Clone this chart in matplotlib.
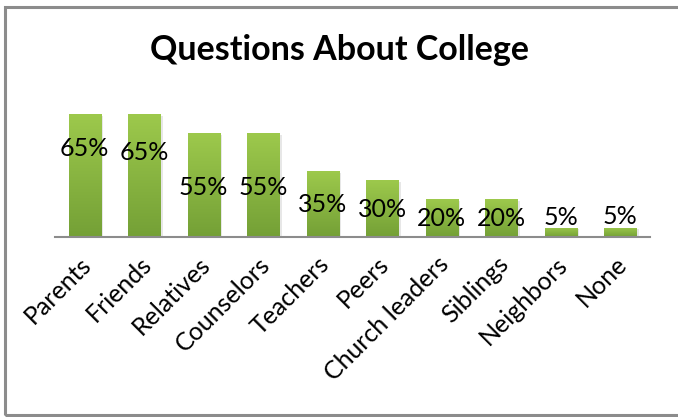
import numpy as np
import matplotlib.pyplot as plt
import matplotlib.transforms as mtransforms
from matplotlib.colors import LinearSegmentedColormap
from matplotlib.patches import Rectangle

categories = ['Parents', 'Friends', 'Relatives', 'Counselors', 'Teachers',
              'Peers', 'Church leaders', 'Siblings', 'Neighbors', 'None']
values = [65, 65, 55, 55, 35, 30, 20, 20, 5, 5]
value_labels = ['65%', '65%', '55%', '55%', '35%', '30%', '20%', '20%', '5%', '5%']
# heights where the value labels sit
label_at = [47, 45, 26.5, 26.5, 17, 14.5, 10, 10, 10.5, 11]

plt.rcParams['font.family'] = ['Lato', 'DejaVu Sans']

W, H = 678, 417
fig = plt.figure(figsize=(W / 100, H / 100), dpi=100)

# grey frame round the chart (right edge runs off the picture)
frame = Rectangle((4.5 / W, (H - 414.5) / H), 1.2, (414.5 - 6.5) / H,
                  transform=fig.transFigure, fill=False,
                  edgecolor='#8c8c8c', linewidth=2.2)
fig.patches.append(frame)

ax_left, ax_right = 55 / W, 650 / W
ax_bottom = (H - 237) / H
ax_height = 132 / H
ax = fig.add_axes([ax_left, ax_bottom, ax_right - ax_left, ax_height])

x = np.arange(len(categories))
width = 0.54
green = LinearSegmentedColormap.from_list('grn', ['#74a036', '#9dc94c'])
grad = np.linspace(0, 1, 256).reshape(-1, 1)

bars = ax.bar(x, values, width, color='#8ab542', zorder=2)
for b in bars:
    # soft shadow
    ax.add_patch(Rectangle((b.get_x() + 0.04, -0.8), b.get_width(), b.get_height(),
                           facecolor='#d8d8d8', edgecolor='none', zorder=1, alpha=0.6))
    im = ax.imshow(grad, cmap=green, origin='lower', aspect='auto',
                   extent=[b.get_x(), b.get_x() + b.get_width(), 0, b.get_height()],
                   zorder=3)
    im.set_clip_path(b)

for xi, ly, lab in zip(x, label_at, value_labels):
    ax.text(xi, ly, lab, ha='center', va='center', fontsize=18, color='black', zorder=5)

ax.set_xlim(-0.5, len(categories) - 0.5)
ax.set_ylim(0, 70)
for s in ['top', 'right', 'left']:
    ax.spines[s].set_visible(False)
ax.spines['bottom'].set_color('#8c8c8c')
ax.spines['bottom'].set_linewidth(1.5)
ax.spines['bottom'].set_zorder(6)
ax.set_yticks([])
ax.set_xticks(x)
ax.set_xticklabels(categories, rotation=45, ha='right', va='top',
                   rotation_mode='anchor', fontsize=18)
ax.tick_params(axis='x', length=0, pad=11)
shift = mtransforms.ScaledTranslation(-5 / 100, 0, fig.dpi_scale_trans)
for t in ax.get_xticklabels():
    t.set_transform(t.get_transform() + shift)
ax.patch.set_alpha(0)

fig.text(340 / W, (H - 50) / H, 'Questions About College', ha='center', va='center',
         fontsize=24.5, fontweight='bold')

fig.savefig('out.png', dpi=100)
